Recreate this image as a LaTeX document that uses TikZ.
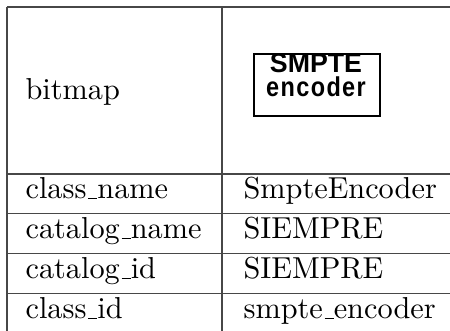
\documentclass[tikz,border=0pt]{standalone}
\usepackage{fontspec}
\newfontfamily\iconfont{Liberation Sans}
\newcommand\ulbar{\leavevmode\kern.06em\vbox{\hrule width.3em}}
\tikzset{
  tline/.style={draw=black!72, line width=0.4pt},
  cell/.style={anchor=base west, inner sep=0pt, font=\fontsize{10}{12}\selectfont},
  icontext/.style={anchor=base, inner sep=0pt, font=\iconfont\bfseries\fontsize{9}{10}\selectfont},
  iconframe/.style={draw=black, line width=0.5pt}
}
\begin{document}
\begin{tikzpicture}[x=0.33pt,y=-0.33pt]
\useasboundingbox (0,0) rectangle (450,331);
% grid
\coordinate (tl) at (7,7);
\coordinate (tr) at (450,7);
\draw[tline] (tl) -- (tr);
\foreach \yy/\nm in {174/a,213.5/b,253.5/c,293.5/d}{
  \coordinate (l\nm) at (7,\yy);
  \coordinate (r\nm) at (450,\yy);
  \draw[tline] (l\nm) -- (r\nm);
}
\coordinate (bl) at (7,331);
\coordinate (mt) at (222,7);
\coordinate (mb) at (222,331);
\draw[tline] (tl) -- (bl);
\draw[tline] (mt) -- (mb);
% left column
\node[cell] (k1) at (25,100) {bitmap};
\node[cell] (k2) at (25,199) {class\ulbar name};
\node[cell] (k3) at (25,239) {catalog\ulbar name};
\node[cell] (k4) at (25,279) {catalog\ulbar id};
\node[cell] (k5) at (25,319) {class\ulbar id};
% right column
\node[cell] (v2) at (243,199) {SmpteEncoder};
\node[cell] (v3) at (243,239) {SIEMPRE};
\node[cell] (v4) at (243,279) {SIEMPRE};
\node[cell] (v5) at (243,319) {smpte\ulbar encoder};
% icon
\begin{scope}
  \clip (254,54) rectangle (380,116);
  \node[icontext, xscale=0.98, text depth=0pt] (i1) at (316,72.5) {SMPTE};
  \node[icontext, xscale=0.86, text height=4.9pt, text depth=0pt] (i2) at (316,97) {\addfontfeature{LetterSpace=6}encoder};
\end{scope}
\draw[iconframe] (254,54) rectangle (380,116);
\end{tikzpicture}
\end{document}
